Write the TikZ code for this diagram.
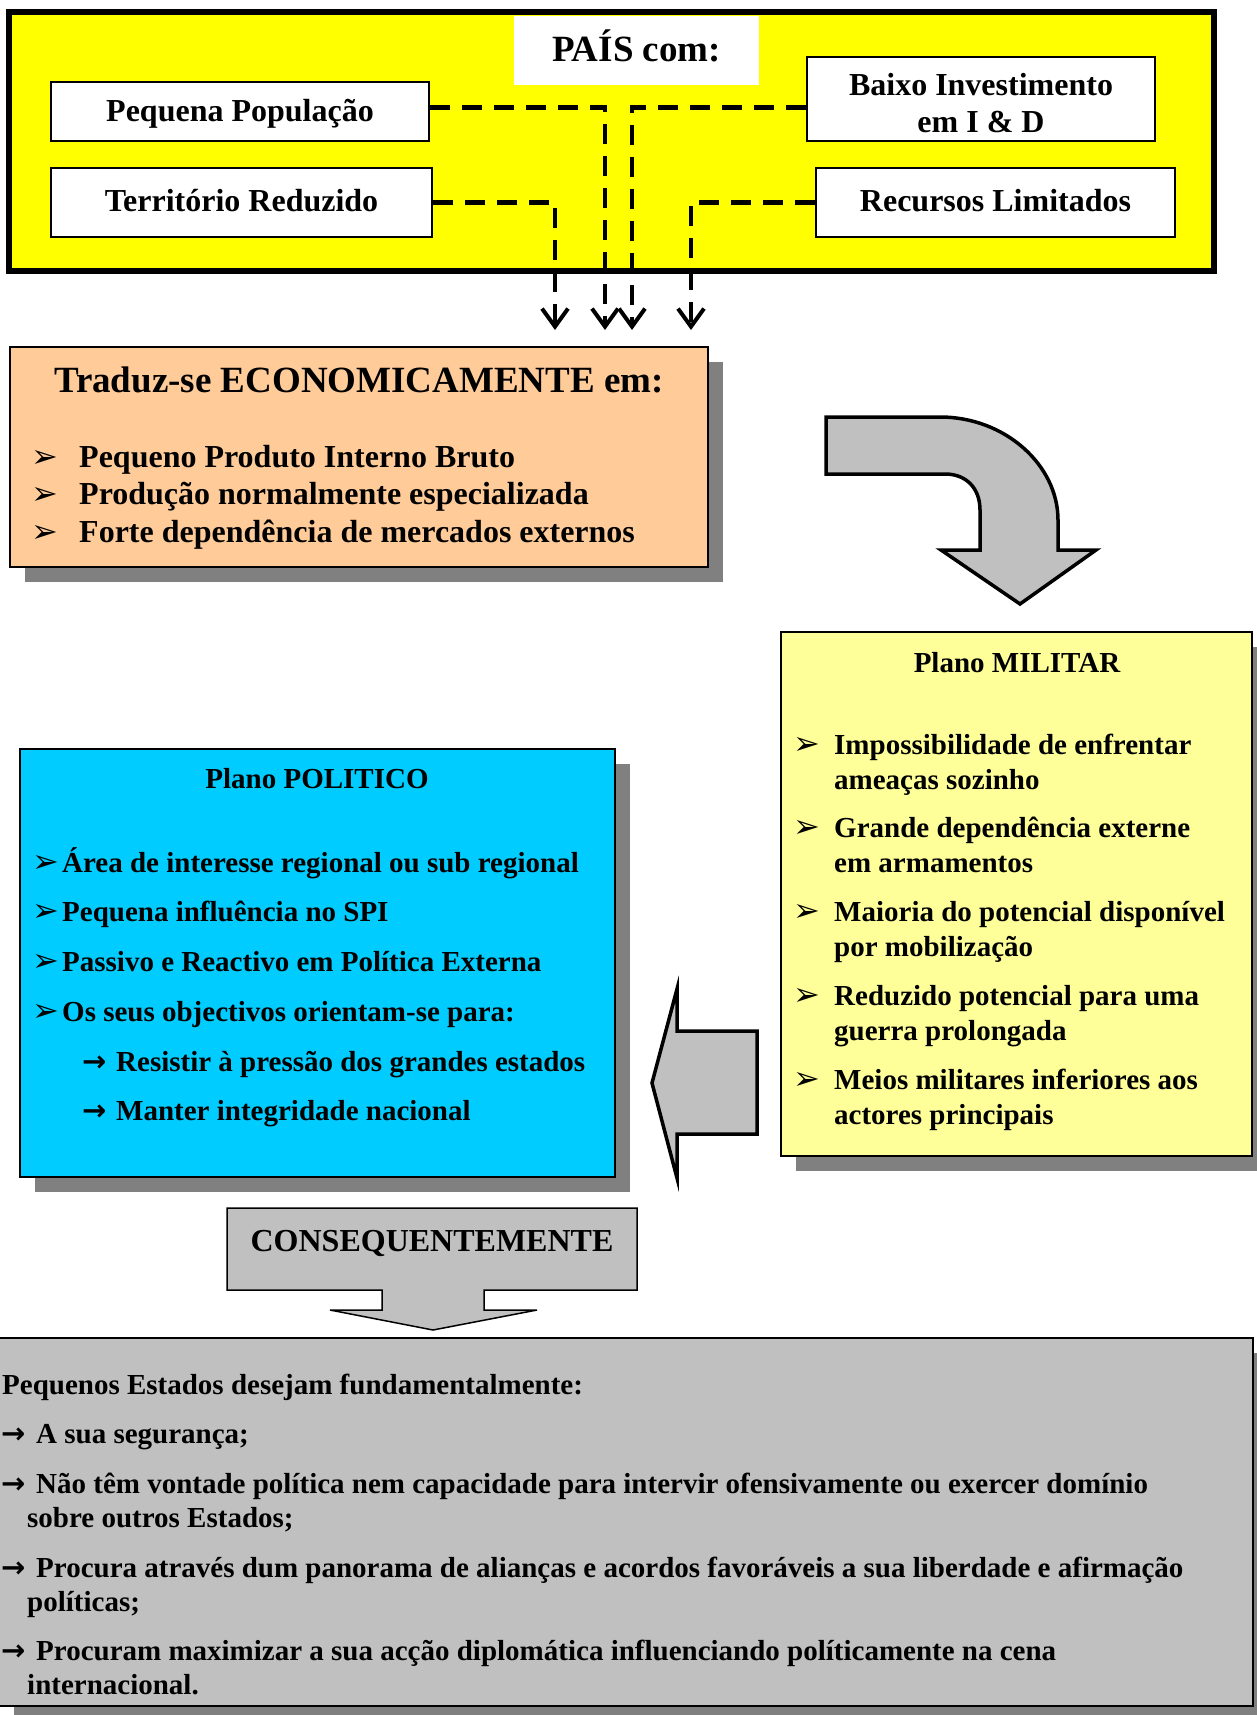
\documentclass[tikz,border=0pt]{standalone}
\usepackage{fontspec}
\setmainfont{Liberation Serif}
\newfontfamily\symfont{DejaVu Sans}
\usetikzlibrary{arrows.meta,shadows}
\definecolor{amarelo}{HTML}{FFFF00}
\definecolor{amareloclaro}{HTML}{FFFF99}
\definecolor{laranja}{HTML}{FFCC99}
\definecolor{azul}{HTML}{00CCFF}
\definecolor{cinza}{HTML}{C0C0C0}
\definecolor{cinzaescuro}{HTML}{808080}
\begin{document}
\begin{tikzpicture}[x=1pt,y=-1pt,
	panel/.style={draw,line width=1.5pt,inner sep=0pt},
	sombra/.style={drop shadow={shadow xshift=15pt,shadow yshift=-15pt,fill=cinzaescuro,opacity=1}},
	caixa/.style={panel,fill=white,font=\bfseries\fontsize{32}{37}\selectfont},
	linha/.style={text height=24pt,text depth=6pt},
	ligacao/.style={line width=4.5pt,dash pattern=on 20pt off 12pt,-{Straight Barb[length=18pt,width=26pt,line width=4pt]}},
	grande/.style={anchor=base west,inner sep=0pt,font=\bfseries\fontsize{32}{37}\selectfont},
	medio/.style={anchor=base west,inner sep=0pt,font=\bfseries\fontsize{29}{35}\selectfont},
	marca/.style={anchor=base west,inner sep=0pt,font=\symfont\bfseries\fontsize{32}{32}\selectfont},
	setinha/.style={anchor=base west,inner sep=0pt,font=\symfont\bfseries\fontsize{29}{29}\selectfont},
	seta/.style={draw,fill=cinza,line width=3.5pt,line join=miter}]

\useasboundingbox (0,0) rectangle (1257,1715);

% quadro do topo
\draw[line width=5.5pt,fill=amarelo] (9,12) rectangle (1214,271);
\node[fill=white,inner sep=0pt,minimum width=245pt,minimum height=69pt,text height=28pt,text depth=5pt,
	font=\bfseries\fontsize{37}{44}\selectfont] (pais) at (636.5,50.5) {PAÍS com:};

\node[caixa,text height=27pt,text depth=6pt,minimum width=378pt,minimum height=59pt] (peq) at (240,111.5) {Pequena População};
\node[caixa,align=center,minimum width=348pt,minimum height=84pt] (baixo) at (981,99) {\rule{0pt}{30pt}Baixo Investimento\\em I \& D};
\node[caixa,linha,minimum width=381pt,minimum height=69pt] (terr) at (241.5,202.5) {Território Reduzido};
\node[caixa,linha,minimum width=359pt,minimum height=69pt] (rec) at (995.5,202.5) {Recursos Limitados};

\coordinate (peqsai) at ([yshift=4pt]peq.east);
\coordinate (p1) at (555,330);
\coordinate (p2) at (605,330);
\coordinate (p3) at (632,330);
\coordinate (p4) at (691,330);
\draw[ligacao] (terr.east) -| (p1);
\draw[ligacao] (peqsai) -| (p2);
\draw[ligacao] (baixo.west |- peqsai) -| (p3);
\draw[ligacao] (rec.west) -| (p4);

% plano economico
\node[panel,sombra,fill=laranja,minimum width=698pt,minimum height=220pt] (econ) at (359,457) {};
\node[anchor=base,inner sep=0pt,font=\bfseries\fontsize{37}{44}\selectfont] (econtit) at (359,392) {Traduz-se ECONOMICAMENTE em:};
\foreach \t [count=\i] in {Pequeno Produto Interno Bruto,Produção normalmente especializada,Forte dependência de mercados externos}
{
	\node[marca] (econ-b\i) at (31,{467+37.5*(\i-1)}) {➢};
	\node[grande] (econ-\i) at (79,{467+37.5*(\i-1)}) {\t};
}

\draw[seta] (826,417) -- (940,417) .. controls (1005,417) and (1058,465) .. (1058,520) -- (1058,550) -- (1096,550)
	-- (1020,604) -- (941,550) -- (980,550) -- (980,510) .. controls (980,488) and (966,474) .. (945,474) -- (826,474) -- cycle;

% plano militar
\node[panel,sombra,fill=amareloclaro,minimum width=471pt,minimum height=524pt] (mil) at (1016.5,894) {};
\node[anchor=base,inner sep=0pt,font=\bfseries\fontsize{29}{35}\selectfont] (miltit) at (1017,672) {Plano MILITAR};
\foreach \a/\b [count=\i] in {Impossibilidade de enfrentar/ameaças sozinho,Grande dependência externe/em armamentos,
	Maioria do potencial disponível/por mobilização,Reduzido potencial para uma/guerra prolongada,
	Meios militares inferiores aos/actores principais}
{
	\node[marca] (mil-b\i) at (793,{754+83.75*(\i-1)}) {➢};
	\node[medio] (mil-\i) at (834,{754+83.75*(\i-1)}) {\a};
	\node[medio] (mil-\i b) at (834,{789+83.75*(\i-1)}) {\b};
}

% plano politico
\node[panel,sombra,fill=azul,minimum width=595pt,minimum height=428pt] (pol) at (317.5,963) {};
\node[anchor=base,inner sep=0pt,font=\bfseries\fontsize{29}{35}\selectfont] (poltit) at (317,788) {Plano POLITICO};
\foreach \t [count=\i] in {Área de interesse regional ou sub regional,Pequena influência no SPI,
	Passivo e Reactivo em Política Externa,Os seus objectivos orientam-se para:}
{
	\node[marca] (pol-b\i) at (32,{872+49.7*(\i-1)}) {➢};
	\node[medio] (pol-\i) at (62,{872+49.7*(\i-1)}) {\t};
}
\node[setinha] (pol-s5) at (82,1071) {→};
\node[medio] (pol-5) at (116,1071) {Resistir à pressão dos grandes estados};
\node[setinha] (pol-s6) at (82,1120) {→};
\node[medio] (pol-6) at (116,1120) {Manter integridade nacional};

\draw[seta] (757,1031) -- (677,1031) -- (677,989) -- (652,1083) -- (677,1178) -- (677,1134) -- (757,1134) -- cycle;

% consequentemente
\draw[fill=cinza,line width=1.5pt] (227,1208) -- (637,1208) -- (637,1290) -- (484,1290) -- (484,1310) -- (537,1310)
	-- (433,1330) -- (330,1310) -- (382,1310) -- (382,1290) -- (227,1290) -- cycle;
\node[anchor=base,inner sep=0pt,font=\bfseries\fontsize{32}{37}\selectfont] (conseq) at (432,1251) {CONSEQUENTEMENTE};

\node[panel,sombra,fill=cinza,minimum width=1254pt,minimum height=368pt] (fim) at (626,1522) {};
\node[medio] (fim-0) at (2,1394) {Pequenos Estados desejam fundamentalmente:};
\foreach \y/\t [count=\i] in {1443/A sua segurança;,
	1493/Não têm vontade política nem capacidade para intervir ofensivamente ou exercer domínio,
	1577/Procura através dum panorama de alianças e acordos favoráveis a sua liberdade e afirmação,
	1660/Procuram maximizar a sua acção diplomática influenciando políticamente na cena}
{
	\node[setinha] (fim-s\i) at (1,\y) {→};
	\node[medio] (fim-\i) at (36,\y) {\t};
}
\node[medio] (fim-2b) at (27,1527) {sobre outros Estados;};
\node[medio] (fim-3b) at (27,1611) {políticas;};
\node[medio] (fim-4b) at (27,1694) {internacional.};

\end{tikzpicture}
\end{document}
